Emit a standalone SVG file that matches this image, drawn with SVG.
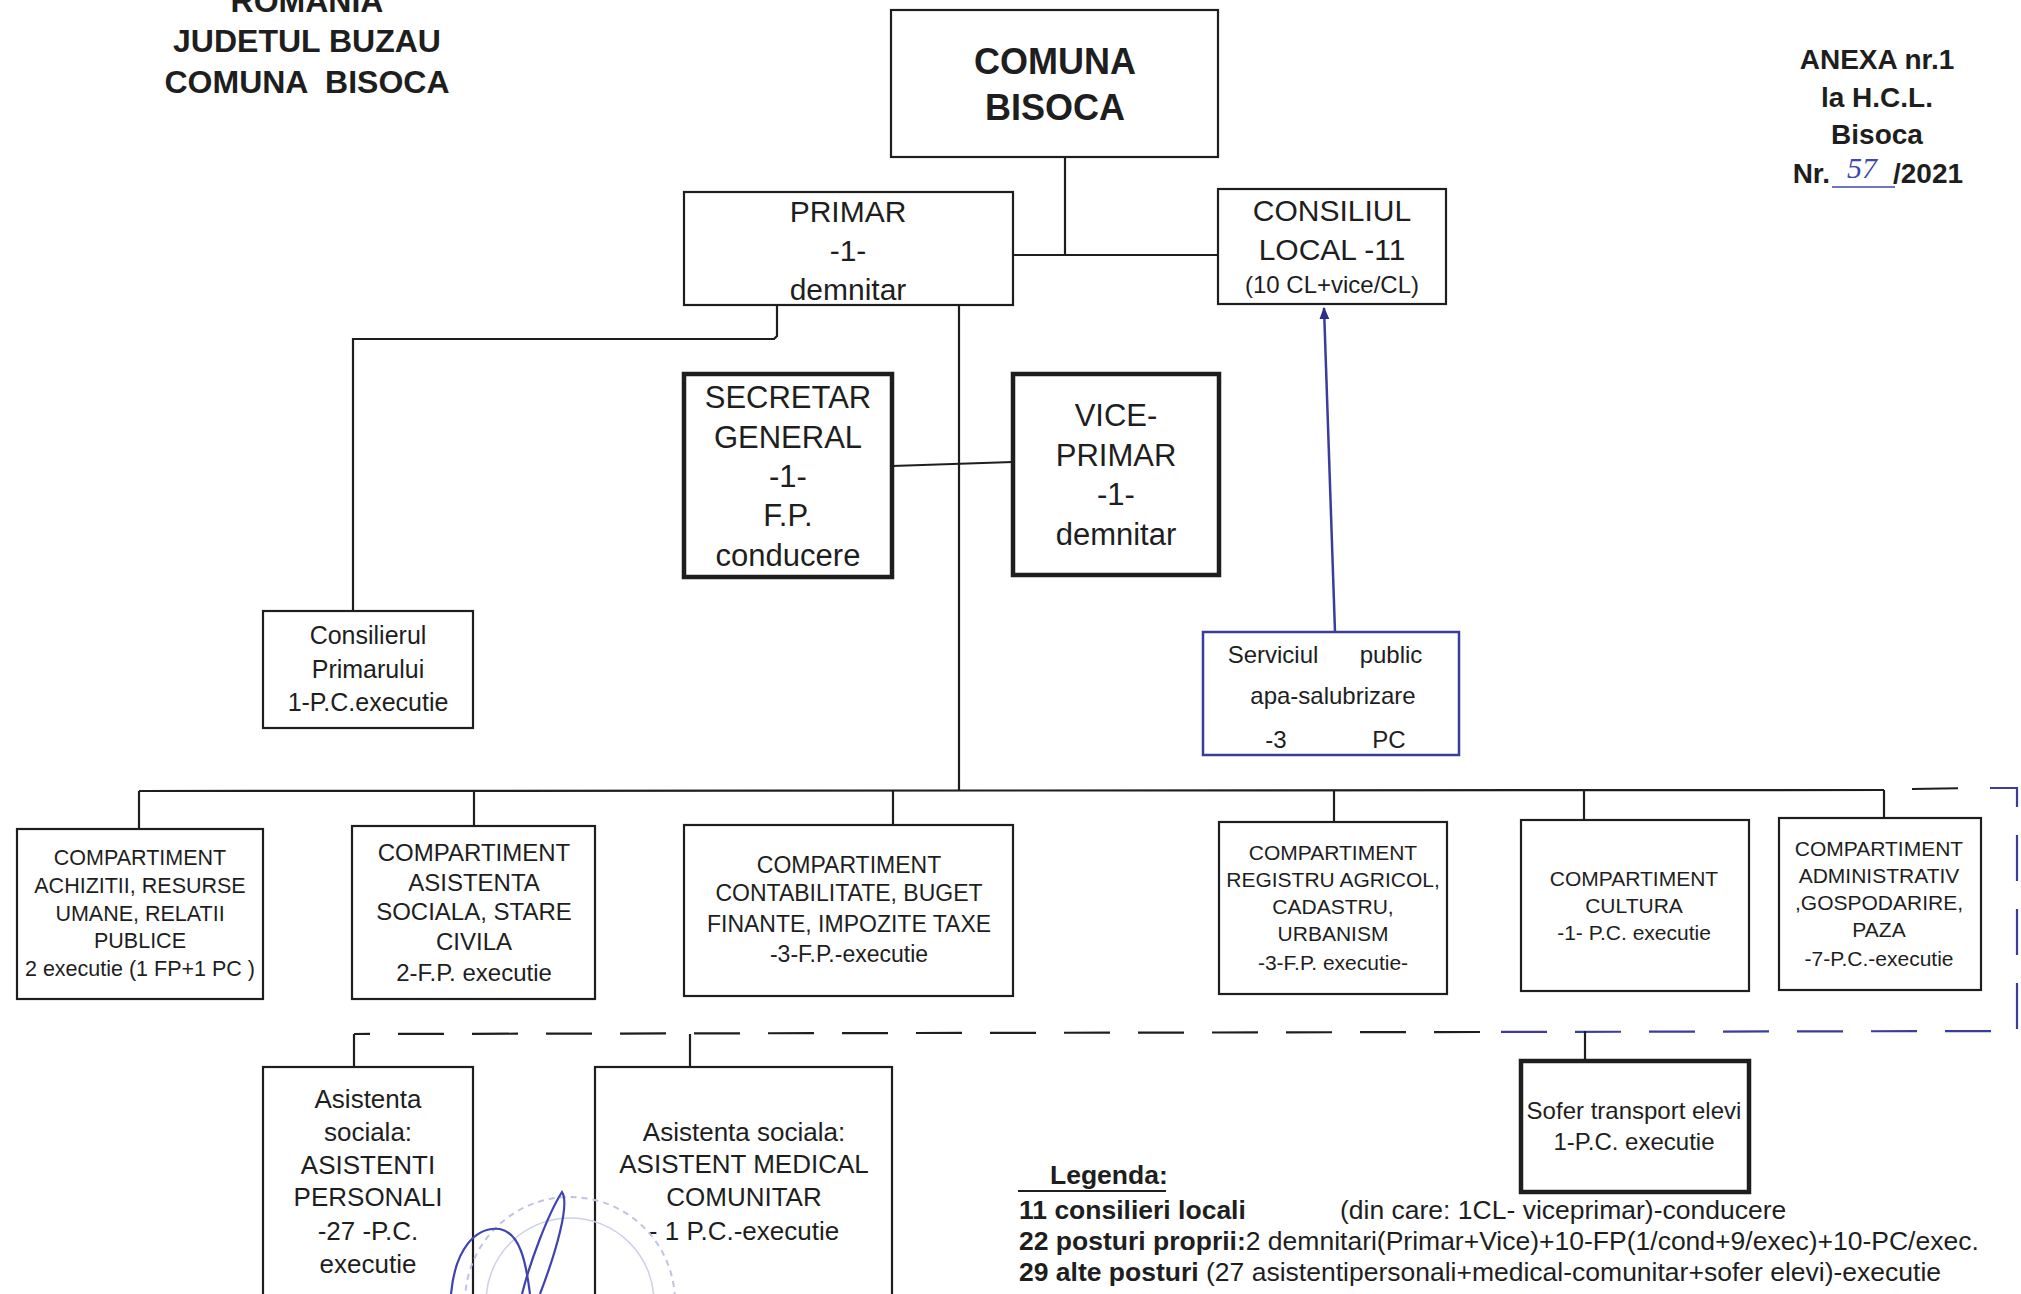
<svg xmlns="http://www.w3.org/2000/svg" width="2021" height="1294" viewBox="0 0 2021 1294">
<style>
.bg{fill:#ffffff}
.box{fill:#ffffff;stroke:#1e1e1e;stroke-width:2.2}
.thick{stroke-width:4.5}
.bluebox{stroke:#3a3d9c;stroke-width:2.5}
.t{font-family:"Liberation Sans",Arial,sans-serif;fill:#1e1e1e;text-anchor:middle}
.b{font-weight:bold}
.ln{stroke:#1e1e1e;stroke-width:2.2;fill:none}
.bl{stroke:#3a3d9c;stroke-width:2.5;fill:none}
.dash{stroke-dasharray:46 28}
.bdash{stroke:#3a3d9c}
.f21{font-size:21px}
.f23{font-size:23px}
.f24{font-size:24px}
.f25{font-size:25px}
.f26{font-size:26px}
.f30{font-size:30px}
.f31{font-size:31px}
.lg{font-family:"Liberation Sans",Arial,sans-serif;fill:#1e1e1e;font-size:26.5px}
</style>
<defs>
<marker id="arr" viewBox="0 0 10 10" refX="9" refY="5" markerWidth="5" markerHeight="6" orient="auto" markerUnits="strokeWidth">
<path d="M0,1 L10,5 L0,9 z" fill="#2c2f8a"/>
</marker>
</defs>
<rect class="bg" x="0" y="0" width="2021" height="1294"/>

<g id="header-left">
<text class="t b" x="307" y="12" font-size="32">ROMANIA</text>
<text class="t b" x="307" y="52" font-size="32">JUDETUL BUZAU</text>
<text class="t b" x="307" y="93" font-size="32" style="white-space:pre">COMUNA  BISOCA</text>
</g>

<g id="header-right">
<text class="t b" x="1877" y="69" font-size="28">ANEXA nr.1</text>
<text class="t b" x="1877" y="107" font-size="28">la H.C.L.</text>
<text class="t b" x="1877" y="144" font-size="28">Bisoca</text>
<text class="t b" x="1830" y="183" font-size="28" style="text-anchor:end">Nr.</text>
<text x="1862" y="178" font-size="30" style="font-family:'Liberation Serif',serif;font-style:italic;fill:#4046b0;text-anchor:middle">57</text>
<line x1="1832" y1="187" x2="1895" y2="187" stroke="#4046b0" stroke-width="1.5"/>
<text class="t b" x="1893" y="183" font-size="28" style="text-anchor:start">/2021</text>
</g>

<g id="connectors">
<polyline class="ln" points="1065,157 1065,255"/>
<polyline class="ln" points="1013,255 1218,255"/>
<polyline class="ln" points="959,305 959,791"/>
<polyline class="ln" points="892,466 1013,462"/>
<polyline class="ln" points="777,305 777,336 774,339 353,339 353,611"/>
<polyline class="ln" points="139,791 1884,790"/>
<polyline class="ln" points="139,791 139,829"/>
<polyline class="ln" points="474,791 474,826"/>
<polyline class="ln" points="893,791 893,825"/>
<polyline class="ln" points="1334,791 1334,822"/>
<polyline class="ln" points="1584,790 1584,820"/>
<polyline class="ln" points="1884,790 1884,818"/>
<polyline class="ln dash" points="1912,789 1975,788"/>
<polyline class="ln dash bdash" points="1990,788 2017,788 2017,1031 1480,1032"/>
<polyline class="ln dash" points="1480,1032 354,1034"/>
<polyline class="ln" points="354,1034 354,1067"/>
<polyline class="ln" points="690,1034 690,1067"/>
<polyline class="ln" points="1585,1031 1585,1061"/>
<polyline class="bl" points="1335,632 1324,308" marker-end="url(#arr)"/>
</g>

<g id="comuna">
<rect class="box" x="891" y="10" width="327" height="147"/>
<text class="t b" x="1055" y="74" font-size="36">COMUNA</text>
<text class="t b" x="1055" y="120" font-size="36">BISOCA</text>
</g>

<g id="primar">
<rect class="box" x="684" y="192" width="329" height="113"/>
<text class="t f30" x="848" y="222">PRIMAR</text>
<text class="t f30" x="848" y="261">-1-</text>
<text class="t f30" x="848" y="300">demnitar</text>
</g>

<g id="consiliul">
<rect class="box" x="1218" y="189" width="228" height="115"/>
<text class="t f30" x="1332" y="221">CONSILIUL</text>
<text class="t f30" x="1332" y="260">LOCAL -11</text>
<text class="t f24" x="1332" y="293">(10 CL+vice/CL)</text>
</g>

<g id="secretar">
<rect class="box thick" x="684" y="374" width="208" height="203"/>
<text class="t f31" x="788" y="408">SECRETAR</text>
<text class="t f31" x="788" y="448">GENERAL</text>
<text class="t f31" x="788" y="487">-1-</text>
<text class="t f31" x="788" y="526">F.P.</text>
<text class="t f31" x="788" y="566">conducere</text>
</g>

<g id="viceprimar">
<rect class="box thick" x="1013" y="374" width="206" height="201"/>
<text class="t f31" x="1116" y="426">VICE-</text>
<text class="t f31" x="1116" y="466">PRIMAR</text>
<text class="t f31" x="1116" y="505">-1-</text>
<text class="t f31" x="1116" y="545">demnitar</text>
</g>

<g id="consilierul">
<rect class="box" x="263" y="611" width="210" height="117"/>
<text class="t f25" x="368" y="644">Consilierul</text>
<text class="t f25" x="368" y="678">Primarului</text>
<text class="t f25" x="368" y="711">1-P.C.executie</text>
</g>

<g id="serviciul">
<rect class="box bluebox" x="1203" y="632" width="256" height="123"/>
<text class="t f24" x="1273" y="663">Serviciul</text>
<text class="t f24" x="1391" y="663">public</text>
<text class="t f24" x="1333" y="704">apa-salubrizare</text>
<text class="t f24" x="1276" y="748">-3</text>
<text class="t f24" x="1389" y="748">PC</text>
</g>

<g id="comp-achizitii">
<rect class="box" x="17" y="829" width="246" height="170"/>
<text class="t" font-size="21.5" x="140" y="865">COMPARTIMENT</text>
<text class="t" font-size="21.5" x="140" y="893">ACHIZITII, RESURSE</text>
<text class="t" font-size="21.5" x="140" y="921">UMANE, RELATII</text>
<text class="t" font-size="21.5" x="140" y="948">PUBLICE</text>
<text class="t" font-size="21.5" x="140" y="976">2 executie (1 FP+1 PC )</text>
</g>

<g id="comp-asistenta">
<rect class="box" x="352" y="826" width="243" height="173"/>
<text class="t f24" x="474" y="861">COMPARTIMENT</text>
<text class="t f24" x="474" y="891">ASISTENTA</text>
<text class="t f24" x="474" y="920">SOCIALA, STARE</text>
<text class="t f24" x="474" y="950">CIVILA</text>
<text class="t f24" x="474" y="981">2-F.P. executie</text>
</g>

<g id="comp-contabilitate">
<rect class="box" x="684" y="825" width="329" height="171"/>
<text class="t f23" x="849" y="873">COMPARTIMENT</text>
<text class="t f23" x="849" y="901">CONTABILITATE, BUGET</text>
<text class="t f23" x="849" y="932">FINANTE, IMPOZITE TAXE</text>
<text class="t f23" x="849" y="962">-3-F.P.-executie</text>
</g>

<g id="comp-registru">
<rect class="box" x="1219" y="822" width="228" height="172"/>
<text class="t f21" x="1333" y="860">COMPARTIMENT</text>
<text class="t f21" x="1333" y="887">REGISTRU AGRICOL,</text>
<text class="t f21" x="1333" y="914">CADASTRU,</text>
<text class="t f21" x="1333" y="941">URBANISM</text>
<text class="t f21" x="1333" y="970">-3-F.P. executie-</text>
</g>

<g id="comp-cultura">
<rect class="box" x="1521" y="820" width="228" height="171"/>
<text class="t f21" x="1634" y="886">COMPARTIMENT</text>
<text class="t f21" x="1634" y="913">CULTURA</text>
<text class="t f21" x="1634" y="940">-1- P.C. executie</text>
</g>

<g id="comp-administrativ">
<rect class="box" x="1779" y="818" width="202" height="172"/>
<text class="t f21" x="1879" y="856">COMPARTIMENT</text>
<text class="t f21" x="1879" y="883">ADMINISTRATIV</text>
<text class="t f21" x="1879" y="910">,GOSPODARIRE,</text>
<text class="t f21" x="1879" y="937">PAZA</text>
<text class="t f21" x="1879" y="966">-7-P.C.-executie</text>
</g>

<g id="asistenti-personali">
<rect class="box" x="263" y="1067" width="210" height="240"/>
<text class="t f26" x="368" y="1108">Asistenta</text>
<text class="t f26" x="368" y="1141">sociala:</text>
<text class="t f26" x="368" y="1174">ASISTENTI</text>
<text class="t f26" x="368" y="1206">PERSONALI</text>
<text class="t f26" x="368" y="1240">-27 -P.C.</text>
<text class="t f26" x="368" y="1273">executie</text>
</g>

<g id="asistent-medical">
<rect class="box" x="595" y="1067" width="297" height="240"/>
<text class="t f26" x="744" y="1141">Asistenta sociala:</text>
<text class="t f26" x="744" y="1173">ASISTENT MEDICAL</text>
<text class="t f26" x="744" y="1206">COMUNITAR</text>
<text class="t f26" x="744" y="1240">- 1 P.C.-executie</text>
</g>

<g id="sofer">
<rect class="box thick" x="1521" y="1061" width="228" height="131"/>
<text class="t f24" x="1634" y="1119">Sofer transport elevi</text>
<text class="t f24" x="1634" y="1150">1-P.C. executie</text>
</g>

<g id="legenda">
<text class="lg b" x="1050" y="1184">Legenda:</text>
<line x1="1018" y1="1191" x2="1166" y2="1191" stroke="#1e1e1e" stroke-width="2"/>
<text class="lg" x="1019" y="1219"><tspan font-weight="bold">11 consilieri locali</tspan><tspan x="1340">(din care: 1CL- viceprimar)-conducere</tspan></text>
<text class="lg" x="1019" y="1250"><tspan font-weight="bold">22 posturi proprii:</tspan><tspan>2 demnitari(Primar+Vice)+10-FP(1/cond+9/exec)+10-PC/exec.</tspan></text>
<text class="lg" x="1019" y="1281"><tspan font-weight="bold">29 alte posturi</tspan><tspan> (27 asistentipersonali+medical-comunitar+sofer elevi)-executie</tspan></text>
</g>

<g id="stamp" fill="none">
<circle cx="570" cy="1302" r="105" stroke="#c0c3e2" stroke-width="2" stroke-dasharray="6 5"/>
<circle cx="570" cy="1302" r="84" stroke="#cdd0e8" stroke-width="1.5"/>
<path d="M451,1294 C455,1250 475,1226 500,1229 C520,1233 526,1262 530,1294" stroke="#3f43b0" stroke-width="2.2"/>
<path d="M522,1294 C530,1262 548,1214 562,1192 C570,1204 556,1252 540,1294" stroke="#3f43b0" stroke-width="2.2"/>
</g>
</svg>
